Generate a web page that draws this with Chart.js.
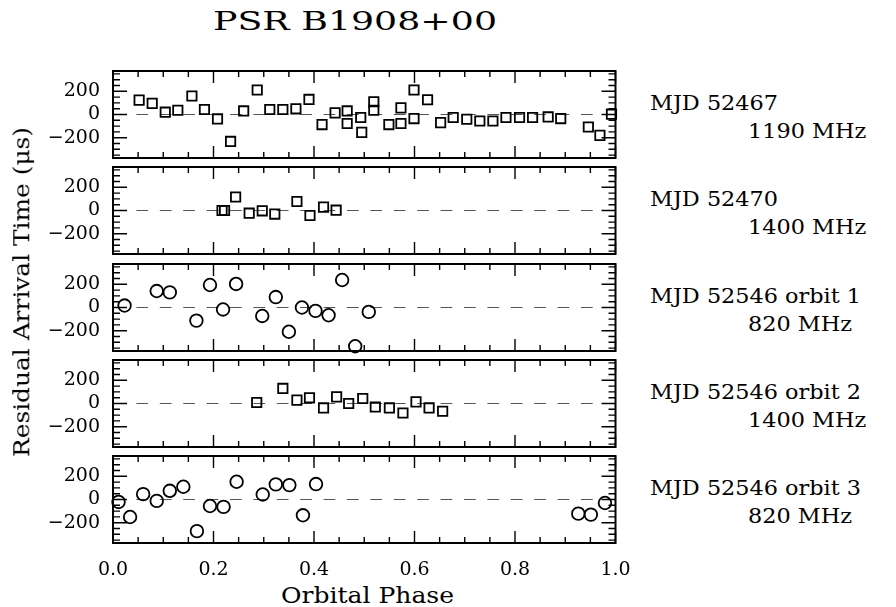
<!DOCTYPE html>
<html>
<head>
<meta charset="utf-8">
<script src="https://cdn.jsdelivr.net/npm/chart.js@4.4.0/dist/chart.umd.min.js"></script>
<style>
  html, body { margin: 0; padding: 0; background: #fff; }
  #page { position: relative; width: 896px; height: 607px; overflow: hidden; font-family: "DejaVu Serif", serif; color: #000; }
  #page canvas { position: absolute; left: 0; }
  .txt { position: absolute; white-space: nowrap; line-height: 1; transform-origin: 0 0; display: inline-block; }
</style>
</head>
<body>
<div id="page"></div>
<script>
// orbital phase and residual (microseconds) per observation
const phase1 = [0.052, 0.078, 0.104, 0.129, 0.157, 0.182, 0.208, 0.234, 0.260, 0.287, 0.312, 0.338, 0.364, 0.390, 0.416, 0.442, 0.466, 0.466, 0.493, 0.495, 0.519, 0.519, 0.549, 0.573, 0.573, 0.599, 0.599, 0.626, 0.652, 0.677, 0.704, 0.730, 0.756, 0.782, 0.809, 0.835, 0.866, 0.891, 0.946, 0.969, 0.992];
const resid1 = [124, 96, 20, 37, 159, 43, -38, -232, 31, 211, 43, 43, 49, 130, -87, 14, 31, -78, -26, -154, 110, 37, -87, -78, 57, 211, -35, 127, -70, -26, -41, -56, -56, -26, -26, -26, -21, -35, -108, -180, 3];

const phase2 = [0.217, 0.222, 0.244, 0.271, 0.297, 0.322, 0.366, 0.392, 0.419, 0.444];
const resid2 = [0, 0, 116, -23, -3, -31, 78, -43, 29, 3];

const phase3 = [0.023, 0.087, 0.113, 0.166, 0.193, 0.219, 0.245, 0.297, 0.324, 0.350, 0.376, 0.403, 0.429, 0.456, 0.482, 0.509];
const resid3 = [17, 142, 130, -113, 194, -17, 203, -73, 90, -209, 0, -29, -67, 237, -334, -38];

const phase4 = [0.286, 0.338, 0.366, 0.391, 0.419, 0.445, 0.469, 0.497, 0.522, 0.550, 0.577, 0.603, 0.629, 0.656];
const resid4 = [9, 130, 29, 49, -38, 57, 0, 43, -30, -38, -82, 14, -38, -67];

const phase5 = [0.011, 0.034, 0.060, 0.087, 0.113, 0.140, 0.167, 0.193, 0.220, 0.246, 0.298, 0.324, 0.351, 0.378, 0.404, 0.926, 0.951, 0.979];
const resid5 = [-21, -151, 46, -12, 75, 110, -273, -56, -64, 153, 43, 130, 124, -136, 133, -122, -130, -30];

const panelNames = ['MJD 52467', 'MJD 52470', 'MJD 52546 orbit 1', 'MJD 52546 orbit 2', 'MJD 52546 orbit 3'];
const panelFreqs = ['1190 MHz', '1400 MHz', '820 MHz', '1400 MHz', '820 MHz'];
const panelMarkers = ['rect', 'rect', 'circle', 'rect', 'circle'];

const xTicks = [0, 0.2, 0.4, 0.6, 0.8, 1.0];
const yTicks = [-200, 0, 200];

const phases = [phase1, phase2, phase3, phase4, phase5];
const resids = [resid1, resid2, resid3, resid4, resid5];

const page = document.getElementById('page');
const panelTops = [71, 167, 264, 360, 456];
const panelH = 87;
const PAD = 15;
const XAXIS_H = 40;

// frame, inward ticks on all four sides, dashed zero line
const framePlugin = {
    id: 'frame',
    beforeDatasetsDraw(chart) {
        const { ctx, chartArea: a, scales: { x, y } } = chart;
        ctx.save();
        const y0 = y.getPixelForValue(0);
        ctx.strokeStyle = '#555';
        ctx.lineWidth = 1.2;
        ctx.setLineDash([11.7, 11.7]);
        ctx.beginPath();
        ctx.moveTo(a.left, y0);
        ctx.lineTo(a.right, y0);
        ctx.stroke();
        ctx.setLineDash([]);

        ctx.strokeStyle = '#000';
        ctx.lineWidth = 1.4;
        ctx.beginPath();
        for (let i = 0; i <= 20; i++) {
            const px = x.getPixelForValue(i * 0.05);
            const len = i % 4 === 0 ? 12 : 6;
            ctx.moveTo(px, a.top); ctx.lineTo(px, a.top + len);
            ctx.moveTo(px, a.bottom); ctx.lineTo(px, a.bottom - len);
        }
        for (let v = -350; v <= 350; v += 50) {
            const py = y.getPixelForValue(v);
            const len = v % 200 === 0 ? 14 : 7;
            ctx.moveTo(a.left, py); ctx.lineTo(a.left + len, py);
            ctx.moveTo(a.right, py); ctx.lineTo(a.right - len, py);
        }
        ctx.stroke();
        ctx.lineWidth = 2;
        ctx.strokeRect(a.left, a.top, a.right - a.left, a.bottom - a.top);
        ctx.restore();
    }
};

const tickFont = { family: 'DejaVu Serif', size: 19 };

function makePanel(i) {
    const last = i === phases.length - 1;
    const canvas = document.createElement('canvas');
    canvas.width = 640;
    canvas.height = PAD + panelH + (last ? XAXIS_H : PAD);
    canvas.style.top = (panelTops[i] - PAD) + 'px';
    page.appendChild(canvas);

    const points = phases[i].map((p, k) => ({ x: p, y: resids[i][k] }));

    new Chart(canvas, {
        type: 'scatter',
        data: {
            datasets: [{
                data: points,
                pointStyle: panelMarkers[i],
                pointRadius: panelMarkers[i] === 'rect' ? 6.6 : 6.3,
                borderColor: '#000',
                backgroundColor: 'rgba(0,0,0,0)',
                borderWidth: 1.8,
                clip: false
            }]
        },
        options: {
            responsive: false,
            animation: false,
            events: [],
            layout: { padding: { left: 0, right: 24.5, top: PAD, bottom: last ? 0 : PAD } },
            plugins: { legend: { display: false }, tooltip: { enabled: false } },
            scales: {
                x: {
                    type: 'linear', min: 0, max: 1, display: last,
                    grid: { display: false, drawTicks: false }, border: { display: false },
                    afterBuildTicks: s => { s.ticks = xTicks.map(v => ({ value: v })); },
                    afterFit: s => {
                        if (last) s.height = XAXIS_H;
                        s.paddingLeft = 0;
                        s.paddingRight = 0;
                    },
                    ticks: {
                        padding: 16, font: tickFont, color: '#000', maxRotation: 0, autoSkip: false,
                        callback: v => v.toFixed(1)
                    }
                },
                y: {
                    type: 'linear', min: -375, max: 375,
                    grid: { display: false, drawTicks: false }, border: { display: false },
                    afterBuildTicks: s => { s.ticks = yTicks.map(v => ({ value: v })); },
                    afterFit: s => { s.width = 113; s.paddingTop = 0; s.paddingBottom = 0; },
                    ticks: {
                        padding: 13, font: tickFont, color: '#000',
                        callback: v => v < 0 ? '\u2212' + (-v) : String(v)
                    }
                }
            }
        },
        plugins: [framePlugin]
    });
}

phases.forEach((_, i) => makePanel(i));

// text, stretched horizontally to the wide plotting font of the original
function addText(str, size) {
    const el = document.createElement('div');
    el.className = 'txt';
    el.textContent = str;
    el.style.fontSize = size + 'px';
    page.appendChild(el);
    return el;
}

function placeLeft(el, left, baseline, size, sx) {
    el.style.left = left + 'px';
    el.style.top = (baseline - 0.846 * size) + 'px';
    el.style.transform = 'scaleX(' + sx + ')';
}

const title = addText('PSR B1908+00', 26);
const titleScale = 284 / title.getBoundingClientRect().width;
placeLeft(title, 213, 30, 26, titleScale);

const refLabel = addText(panelNames[0], 20.5);
const labelScale = 128 / refLabel.getBoundingClientRect().width;
refLabel.remove();

panelTops.forEach((top, i) => {
    placeLeft(addText(panelNames[i], 20.5), 650, top + 39, 20.5, labelScale);
    placeLeft(addText(panelFreqs[i], 20.5), 748, top + 67, 20.5, labelScale);
});

const xTitle = addText('Orbital Phase', 21.5);
const xScale = 173 / xTitle.getBoundingClientRect().width;
placeLeft(xTitle, 281, 603, 21.5, xScale);

const yTitle = addText('Residual Arrival Time (\u03bcs)', 21.5);
const yScale = 330 / yTitle.getBoundingClientRect().width;
yTitle.style.transformOrigin = '50% 50%';
yTitle.style.left = '22px';
yTitle.style.top = '292px';
yTitle.style.transform = 'translate(-50%, -50%) rotate(-90deg) scaleX(' + yScale + ')';
</script>
</body>
</html>
